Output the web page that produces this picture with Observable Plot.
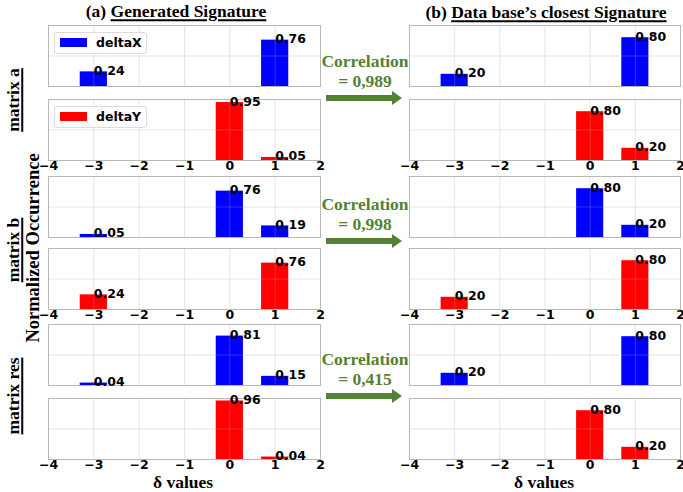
<!DOCTYPE html>
<html><head><meta charset="utf-8">
<script src="https://cdn.jsdelivr.net/npm/d3@7"></script>
<script src="https://cdn.jsdelivr.net/npm/@observablehq/plot@0.6"></script>
<style>
body{margin:0;background:#fff;}
#chart{position:relative;width:683px;height:492px;overflow:hidden;background:#fff;}
.serif{position:absolute;font-family:"Liberation Serif","Times New Roman",serif;font-weight:bold;white-space:nowrap;line-height:1;color:#000;}
.serif u{text-decoration-thickness:1.5px;text-underline-offset:2px;}
.rot{transform:translate(-50%,-50%) rotate(-90deg);}
.ctr{transform:translate(-50%,-50%);}
.corr{color:#548235;font-size:17.5px;text-align:center;}
.legend{position:absolute;background:rgba(255,255,255,0.9);border:1px solid #dcdcdc;border-radius:3px;box-sizing:border-box;font-family:"DejaVu Sans";font-weight:bold;font-size:12.5px;}
.legend .sw{position:absolute;left:5px;top:5px;width:27px;height:9px;}
.legend .lb{position:absolute;left:41px;top:2px;line-height:15px;}
.shaft{position:absolute;height:6px;background:#548235;}
.head{position:absolute;width:0;height:0;border-left:10px solid #548235;border-top:7.5px solid transparent;border-bottom:7.5px solid transparent;}
</style>
</head><body>
<div id="chart"></div>
<script>
// ---- data ----
const bins = [-3, 0, 1];
const xTicks = [-4, -3, -2, -1, 0, 1, 2];
// Generated signature
const genA_X = [0.24, 0, 0.76];
const genA_Y = [0, 0.95, 0.05];
const genB_X = [0.05, 0.76, 0.19];
const genB_Y = [0.24, 0, 0.76];
const genR_X = [0.04, 0.81, 0.15];
const genR_Y = [0, 0.96, 0.04];
// Data base's closest signature
const dbA_X = [0.20, 0, 0.80];
const dbA_Y = [0, 0.80, 0.20];
const dbB_X = [0, 0.80, 0.20];
const dbB_Y = [0.20, 0, 0.80];
const dbR_X = [0.20, 0, 0.80];
const dbR_Y = [0, 0.80, 0.20];
const correlations = ["0,989", "0,998", "0,415"];
const matrixNames = ["matrix a", "matrix b", "matrix res"];
const seriesNames = ["deltaX", "deltaY"];
const colors = {deltaX: "#0000ff", deltaY: "#ff0000"};

// ---- layout ----
const chart = document.getElementById("chart");
const colLeft = [48, 409];
const colWidth = [272, 271];
const rowTops = [25, 99, 176, 248, 324, 398];
const panelH = 61;
const pad = 20;

function toRows(vals) {
  return bins.map((b, i) => ({x: b, v: vals[i]})).filter(d => d.v > 0);
}
const fmtTick = d => d < 0 ? "\u2212" + Math.abs(d) : String(d);

function panel(vals, series, col, row) {
  const showAxis = row % 2 === 1;
  const data = toRows(vals);
  const padBottom = 22;
  const svg = Plot.plot({
    width: colWidth[col] + 2 * pad,
    height: panelH + pad + padBottom,
    marginLeft: pad, marginRight: pad, marginTop: pad, marginBottom: padBottom,
    x: {domain: [-4, 2], axis: null},
    y: {domain: [0, 1], axis: null},
    style: {fontFamily: "DejaVu Sans", fontWeight: "bold", fontSize: "12.5px", color: "#000", background: "transparent", overflow: "visible"},
    marks: [
      Plot.rectY(data, {x1: d => d.x - 0.3, x2: d => d.x + 0.3, y: "v", fill: colors[series]}),
      Plot.ruleX(xTicks, {stroke: "#a8a8a8", strokeOpacity: 0.3}),
      Plot.ruleY([0.5], {stroke: "#a8a8a8", strokeOpacity: 0.3}),
      Plot.frame({stroke: "#b8b8b8"}),
      Plot.text(data, {x: "x", y: "v", text: d => d.v.toFixed(2), textAnchor: "start", lineAnchor: "bottom", dy: 3, fill: "#000", fontSize: 12.5, fontWeight: "bold"}),
      showAxis ? Plot.text(xTicks, {x: d => d, frameAnchor: "bottom", lineAnchor: "top", dy: 1, text: fmtTick, fill: "#000", fontSize: 12.5, fontWeight: "bold"}) : null
    ]
  });
  svg.style.position = "absolute";
  svg.style.left = (colLeft[col] - pad) + "px";
  svg.style.top = (rowTops[row] - pad) + "px";
  chart.appendChild(svg);
}

const gen = [[genA_X, genA_Y], [genB_X, genB_Y], [genR_X, genR_Y]];
const db = [[dbA_X, dbA_Y], [dbB_X, dbB_Y], [dbR_X, dbR_Y]];
for (let m = 0; m < 3; m++) {
  for (let s = 0; s < 2; s++) {
    panel(gen[m][s], seriesNames[s], 0, m * 2 + s);
    panel(db[m][s], seriesNames[s], 1, m * 2 + s);
  }
}

function addDiv(cls, html, styles) {
  const d = document.createElement("div");
  d.className = cls;
  d.innerHTML = html;
  Object.assign(d.style, styles);
  chart.appendChild(d);
  return d;
}

// legends (first matrix, generated column)
seriesNames.forEach((s, i) => {
  const top = rowTops[i] + 7;
  addDiv("legend", `<div class="sw" style="background:${colors[s]}"></div><div class="lb">${s}</div>`,
    {left: "54px", top: top + "px", width: "93px", height: "22px"});
});

// titles
addDiv("serif ctr", "(a) <u>Generated Signature</u>", {left: "176px", top: "12px", fontSize: "17.5px"});
addDiv("serif ctr", "(b) <u>Data base\u2019s closest Signature</u>", {left: "546px", top: "13px", fontSize: "17.5px"});

// x labels
addDiv("serif ctr", "\u03b4 values", {left: "183px", top: "483px", fontSize: "17.5px"});
addDiv("serif ctr", "\u03b4 values", {left: "544px", top: "483px", fontSize: "17.5px"});

// y label
addDiv("serif rot", "Normalized Occurrence", {left: "33px", top: "248px", fontSize: "18.5px"});
const matrixCenters = [100, 250, 396];
matrixNames.forEach((n, i) => {
  addDiv("serif rot", `<u>${n}</u>`, {left: "14px", top: matrixCenters[i] + "px", fontSize: "17.5px"});
});

// correlation annotations
const arrowY = [98, 241, 396];
correlations.forEach((c, i) => {
  const y = arrowY[i];
  addDiv("serif ctr corr", "Correlation", {left: "365px", top: (y - 36) + "px"});
  addDiv("serif ctr corr", "= " + c, {left: "365px", top: (y - 16) + "px"});
  addDiv("shaft", "", {left: "326px", top: (y - 3) + "px", width: "67px"});
  addDiv("head", "", {left: "392px", top: (y - 7.5) + "px"});
});
</script>
</body></html>
